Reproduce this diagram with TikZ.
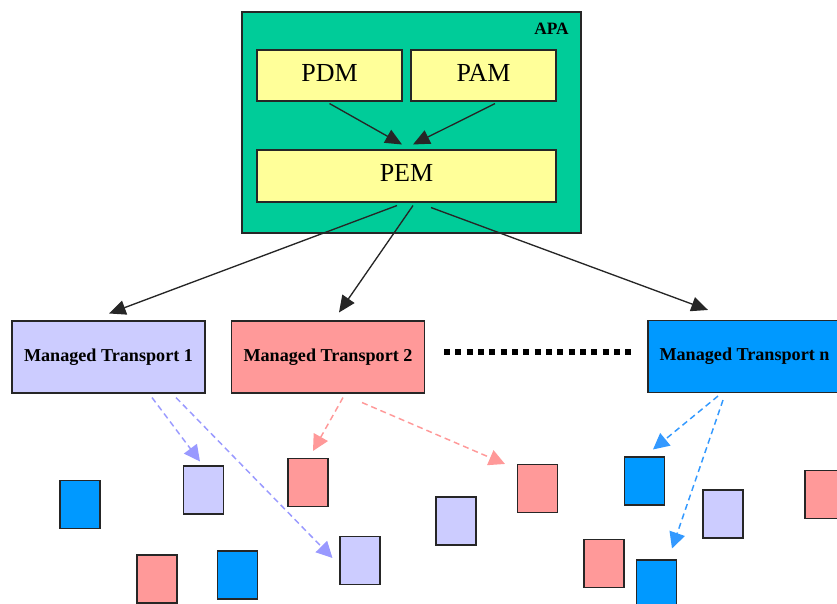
\documentclass[tikz,border=0pt]{standalone}
\usepackage{fontspec}
\setmainfont{Liberation Serif}
\usetikzlibrary{arrows.meta,calc}
\definecolor{apagreen}{RGB}{0,204,153}
\definecolor{modyellow}{RGB}{255,255,153}
\definecolor{mtlav}{RGB}{204,204,255}
\definecolor{mtpink}{RGB}{255,153,153}
\definecolor{mtblue}{RGB}{0,153,255}
\definecolor{lavarrow}{RGB}{153,153,255}
\definecolor{bluearrow}{RGB}{51,153,255}

\tikzset{
 box/.style={draw=black!85, line width=0.8pt, inner sep=0pt},
 module/.style={box, fill=modyellow, minimum height=0.75*51pt, text depth=4pt, font=\fontsize{19.5}{22}\selectfont},
 transport/.style={box, minimum width=0.75*193pt, minimum height=0.75*72pt, font=\bfseries\fontsize{13.6}{15}\selectfont},
 unit/.style={box, minimum width=0.75*40pt, minimum height=0.75*48pt},
 call/.style={-{Triangle[length=12.5pt,width=11pt]}, line width=1pt, black!85},
 notify/.style={-{Triangle[length=12pt,width=12pt]}, line width=1.1pt, dash pattern=on 4.5pt off 3pt},
 more/.style={line width=4.5pt, dash pattern=on 4.5pt off 4pt},
}

\begin{document}
\begin{tikzpicture}[x=0.75pt,y=0.75pt,yscale=-1,xscale=1]
\useasboundingbox (0,0) rectangle (837,603);
\clip (0,0) rectangle (837,603);

% APA
\node[box, fill=apagreen, minimum width=0.75*339pt, minimum height=0.75*221pt] (apa) at (411.5,122.5) {};
\node[anchor=base east, inner sep=0pt, font=\bfseries\fontsize{13}{15}\selectfont] (apalabel) at (569,34) {APA};
\node[module, minimum width=0.75*145pt] (pdm) at (329.5,75.5) {PDM};
\node[module, minimum width=0.75*145pt] (pam) at (483.5,75.5) {PAM};
\node[module, minimum width=0.75*299pt, minimum height=0.75*52pt] (pem) at (406.5,176) {PEM};

% Managed transports
\node[transport, fill=mtlav] (mt1) at (108.5,357) {Managed Transport 1};
\node[transport, fill=mtpink] (mt2) at (328,357) {Managed Transport 2};
\node[transport, fill=mtblue] (mtn) at (744.5,356.5) {Managed Transport n};

% Units
\node[unit, fill=mtblue] (b1) at (80,504.5) {};
\node[unit, fill=mtlav] (l1) at (203.5,490) {};
\node[unit, fill=mtpink] (p1) at (308,482.5) {};
\node[unit, fill=mtlav] (l2) at (360,560.5) {};
\node[unit, fill=mtpink] (p2) at (157,579) {};
\node[unit, fill=mtblue] (b2) at (237.5,575) {};
\node[unit, fill=mtlav] (l3) at (456,521) {};
\node[unit, fill=mtpink] (p3) at (537.5,488.5) {};
\node[unit, fill=mtblue] (b3) at (644.5,481) {};
\node[unit, fill=mtlav] (l4) at (723,514) {};
\node[unit, fill=mtpink] (p4) at (604,563.5) {};
\node[unit, fill=mtblue] (b4) at (656.5,584) {};
\node[unit, fill=mtpink] (p5) at (825,494.5) {};

% Straight Lines
\draw[call] ($(pdm.south)+(0,2)$) -- ($(pem.north)+(-4.5,-5)$);
\draw[call] ($(pam.south)+(11.5,2)$) -- ($(pem.north)+(6.5,-5)$);
\draw[call] ($(pem.south)+(-9.5,3)$) -- ($(mt1.north)+(0.5,-7)$);
\draw[call] ($(pem.south)+(6.5,3)$) -- ($(mt2.north)+(11,-8)$);
\draw[call] ($(pem.south)+(24.5,5)$) -- ($(mtn.north)+(-36.5,-10)$);

\draw[more] ($(mt2.east)+(19,-5)$) -- ($(mtn.west)+(-15,-4.5)$);

% Dashed Lines
\draw[notify, lavarrow] ($(mt1.south)+(43.5,4)$) -- ($(l1.north)+(-3.5,-4)$);
\draw[notify, lavarrow] ($(mt1.south)+(67.5,4)$) -- ($(l2.west)+(-7,-2.5)$);
\draw[notify, mtpink] ($(mt2.south)+(15,4)$) -- ($(p1.north)+(5,-7)$);
\draw[notify, mtpink] ($(mt2.south)+(34,9)$) -- ($(p3.north west)+(-12,0)$);
\draw[notify, bluearrow] ($(mtn.south)+(-26.5,3)$) -- ($(b3.north)+(8.5,-7)$);
\draw[notify, bluearrow] ($(mtn.south)+(-21.5,7)$) -- ($(b4.north)+(15.5,-11)$);
\end{tikzpicture}
\end{document}
